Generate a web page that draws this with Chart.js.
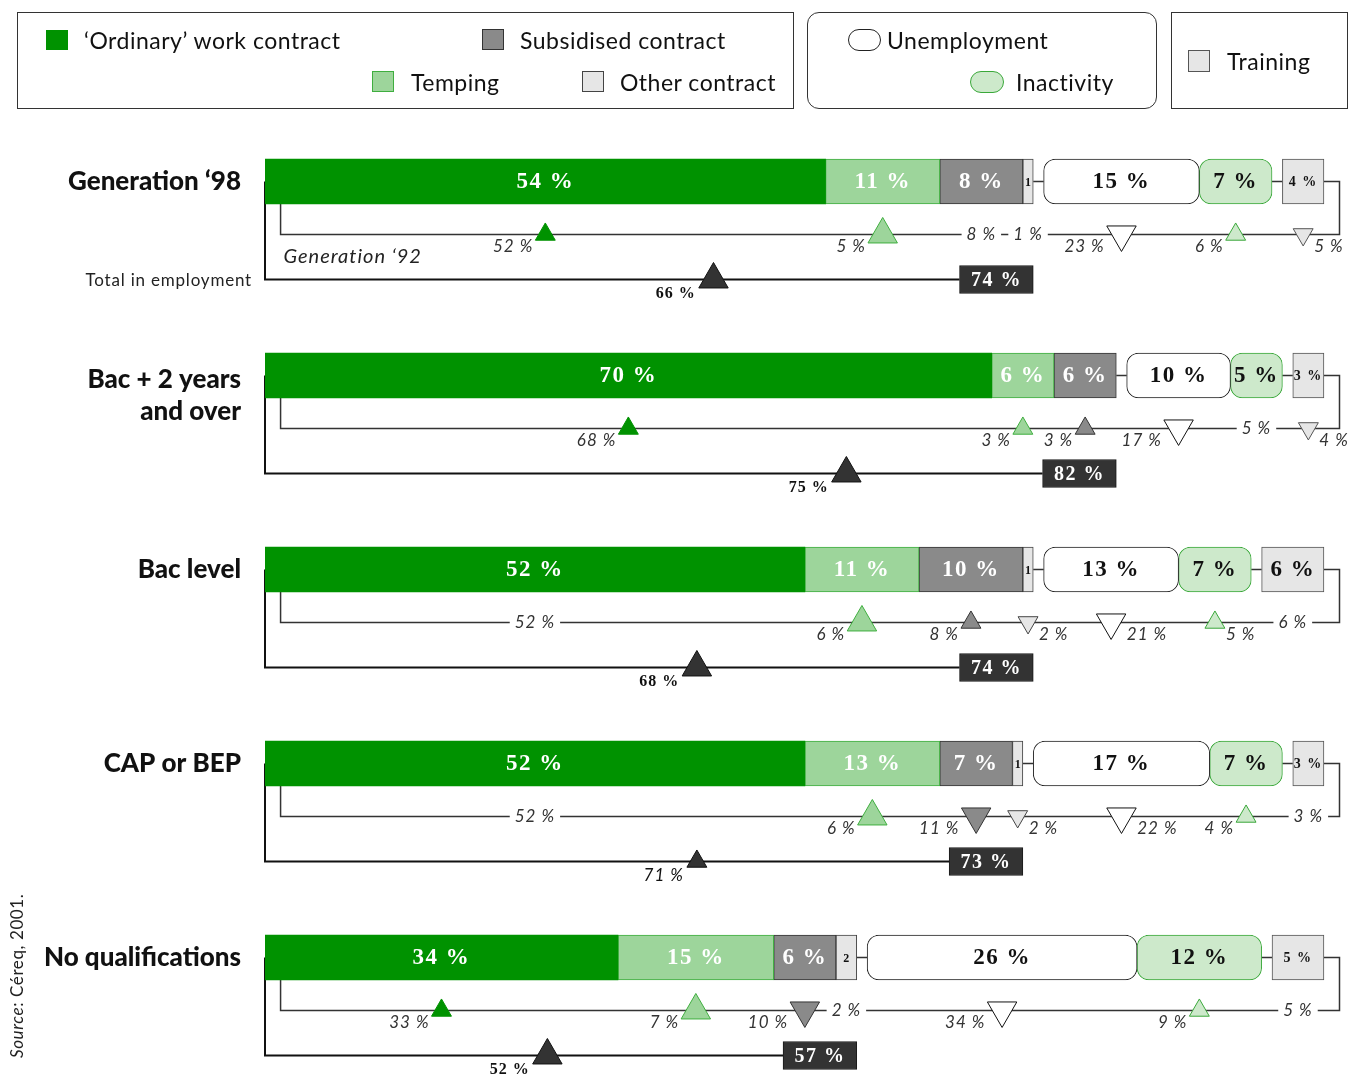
<!DOCTYPE html>
<html>
<head>
<meta charset="utf-8">
<title>Generation ‘98 compared with Generation ‘92</title>
<script src="https://cdn.jsdelivr.net/npm/chart.js@4.4.1/dist/chart.umd.min.js"></script>
<style>
  body { margin: 0; background: #fff; font-family: Lato, "Open Sans", sans-serif; color: #111; }
  #wrap { position: relative; width: 1353px; height: 1076px; overflow: hidden; }
  #chart { position: absolute; left: 0; top: 0; }
  .lbox { position: absolute; top: 12px; height: 97px; border: 1px solid #333; box-sizing: border-box; }
  .sw { position: absolute; box-sizing: border-box; }
  .txt { position: absolute; font-size: 23px; line-height: 26px; white-space: nowrap; letter-spacing: 0.5px; }
  #source { position: absolute; left: 7px; top: 1058px; transform-origin: left top; transform: rotate(-90deg);
            font-size: 17px; line-height: 20px; white-space: nowrap; letter-spacing: 0.6px; color: #222; }
</style>
</head>
<body>
<div id="wrap">
  <canvas id="chart" width="1353" height="1076"></canvas>
  <div id="legend"></div>
  <div id="source"><i>Source</i>: Céreq, 2001.</div>
</div>
<script>
// group labels (one entry per line)
const groups = [['Generation ‘98'], ['Bac + 2 years', 'and over'], ['Bac level'], ['CAP or BEP'], ['No qualifications']];

// Generation '98 (bars)
const ordinary98 = [54, 70, 52, 52, 34];
const temping98 = [11, 6, 11, 13, 15];
const subsidised98 = [8, 6, 10, 7, 6];
const other98 = [1, 0, 1, 1, 2];
const unemployment98 = [15, 10, 13, 17, 26];
const inactivity98 = [7, 5, 7, 7, 12];
const training98 = [4, 3, 6, 3, 5];
const total98 = [74, 82, 74, 73, 57];

// Generation '92 (markers)
const ordinary92 = [52, 68, 52, 52, 33];
const temping92 = [5, 3, 6, 6, 7];
const subsidised92 = [8, 3, 8, 11, 10];
const other92 = [1, 0, 2, 2, 2];
const unemployment92 = [23, 17, 21, 22, 34];
const inactivity92 = [6, 5, 5, 4, 9];
const training92 = [5, 4, 6, 3, 5];
const total92 = [66, 75, 68, 71, 52];

const series = [
  {key: 'ordinary', name: '‘Ordinary’ work contract', v98: ordinary98, v92: ordinary92, fill: '#009200', border: '#009200', bw: 0, text: '#fff', gap: 0},
  {key: 'temping', name: 'Temping', v98: temping98, v92: temping92, fill: '#9dd59b', border: '#3fae3f', bw: 1, text: '#fff', gap: 0},
  {key: 'subsidised', name: 'Subsidised contract', v98: subsidised98, v92: subsidised92, fill: '#8a8a8a', border: '#333', bw: 1, text: '#fff', gap: 0},
  {key: 'other', name: 'Other contract', v98: other98, v92: other92, fill: '#e6e6e6', border: '#444', bw: 1, text: '#111', gap: 0},
  {key: 'unemployment', name: 'Unemployment', v98: unemployment98, v92: unemployment92, fill: '#fff', border: '#222', bw: 1, text: '#111', gap: 1, radius: 12},
  {key: 'inactivity', name: 'Inactivity', v98: inactivity98, v92: inactivity92, fill: '#cde9cb', border: '#3aa83a', bw: 1, text: '#111', gap: 0, radius: 12},
  {key: 'training', name: 'Training', v98: training98, v92: training92, fill: '#e6e6e6', border: '#555', bw: 1, text: '#111', gap: 1}
];

const BAR_H = 45;
const OFFSET92 = 0.273;   // '92 line below each bar, in group units
const OFFSETTOT = 0.505;  // total-in-employment line
const BOX_W = 7.1;

// start/end of every segment, in % units
const spans = groups.map((g, i) => {
  let pos = 0;
  return series.map(s => {
    pos += s.gap;
    const start = pos;
    pos += s.v98[i];
    return {start: start, end: pos};
  });
});

function markerSize(d) { return Math.abs(d) > 3 ? 17 : 11.5; }
function totalMarkerX(i) { return ordinary98[i] * 0.8; }

const barSets = series.map((s, k) => ({
  type: 'bar',
  label: s.name,
  indexAxis: 'y',
  grouped: false,
  barThickness: BAR_H,
  data: groups.map((g, i) => s.v98[i] ? {x: [spans[i][k].start, spans[i][k].end], y: i} : null).filter(Boolean),
  backgroundColor: s.fill,
  borderColor: s.border,
  borderWidth: s.bw,
  borderSkipped: false,
  borderRadius: s.radius || 0
}));

const markerSets = series.map((s, k) => ({
  type: 'scatter',
  label: s.name + ' – Generation ‘92',
  data: groups.map((g, i) => ({x: (spans[i][k].start + spans[i][k].end) / 2, y: i + OFFSET92, d: s.v98[i] - s.v92[i]}))
    .filter(p => p.d !== 0),
  pointStyle: 'triangle',
  pointRadius: ctx => ctx.raw ? markerSize(ctx.raw.d) : 11,
  pointRotation: ctx => ctx.raw && ctx.raw.d < 0 ? 180 : 0,
  pointBackgroundColor: s.fill,
  pointBorderColor: s.key === 'ordinary' ? s.fill : (s.key === 'unemployment' ? '#111' : s.border),
  pointBorderWidth: 1
}));

const totalBox = {
  type: 'bar',
  label: 'Total in employment – Generation ‘98',
  indexAxis: 'y',
  grouped: false,
  barThickness: 28,
  data: total98.map((t, i) => ({x: [t - BOX_W, t], y: i + OFFSETTOT})),
  backgroundColor: '#333',
  borderColor: '#1a1a1a',
  borderWidth: 1,
  borderSkipped: false
};

const totalMarkers = {
  type: 'scatter',
  label: 'Total in employment – Generation ‘92',
  data: total92.map((t, i) => ({x: totalMarkerX(i), y: i + OFFSETTOT, d: total98[i] - t})),
  pointStyle: 'triangle',
  pointRadius: ctx => ctx.raw ? markerSize(ctx.raw.d) : 11,
  pointBackgroundColor: '#333',
  pointBorderColor: '#111',
  pointBorderWidth: 1
};

// which side of its triangle a '92 value is written on
function labelOnRight(s, i) {
  if (s.key === 'training' || s.key === 'other') return true;
  if (s.key === 'unemployment') return other98[i] !== other92[i];
  return false;
}

const annotate = {
  id: 'annotate',
  beforeDatasetsDraw(chart) {
    const {ctx, scales: {x, y}} = chart;
    ctx.save();
    groups.forEach((g, i) => {
      const sp = spans[i];
      const yc = y.getPixelForValue(i);
      const yb = yc + BAR_H / 2;
      const y92 = y.getPixelForValue(i + OFFSET92);
      const yt = y.getPixelForValue(i + OFFSETTOT);
      const end = sp[sp.length - 1].end;
      // total in employment bracket
      ctx.strokeStyle = '#111';
      ctx.lineWidth = 2;
      ctx.beginPath();
      ctx.moveTo(x.getPixelForValue(0), yc);
      ctx.lineTo(x.getPixelForValue(0), yt);
      ctx.lineTo(x.getPixelForValue(total98[i] - BOX_W), yt);
      ctx.stroke();
      // generation '92 bracket
      ctx.strokeStyle = '#333';
      ctx.lineWidth = 1.5;
      ctx.beginPath();
      ctx.moveTo(x.getPixelForValue(1.5), yb);
      ctx.lineTo(x.getPixelForValue(1.5), y92);
      ctx.lineTo(x.getPixelForValue(end + 1.5), y92);
      ctx.lineTo(x.getPixelForValue(end + 1.5), yc);
      ctx.lineTo(x.getPixelForValue(end), yc);
      // connectors between the three blocks
      ctx.moveTo(x.getPixelForValue(total98[i]), yc);
      ctx.lineTo(x.getPixelForValue(sp[4].start), yc);
      ctx.moveTo(x.getPixelForValue(sp[5].end), yc);
      ctx.lineTo(x.getPixelForValue(sp[6].start), yc);
      ctx.stroke();
    });
    ctx.restore();
  },
  afterDatasetsDraw(chart) {
    const {ctx, scales: {x, y}} = chart;
    ctx.save();
    ctx.textBaseline = 'middle';
    groups.forEach((g, i) => {
      const sp = spans[i];
      const yc = y.getPixelForValue(i);
      const y92 = y.getPixelForValue(i + OFFSET92);
      const yt = y.getPixelForValue(i + OFFSETTOT);

      // group name
      ctx.letterSpacing = '0px';
      ctx.font = '900 26px Lato';
      ctx.fillStyle = '#111';
      ctx.textAlign = 'right';
      g.forEach((line, j) => ctx.fillText(line, x.getPixelForValue(0) - 24, yc + (g.length > 1 ? 4 + j * 32 : 0)));

      // labels inside the segments
      series.forEach((s, k) => {
        const v = s.v98[i];
        if (!v) return;
        const x0 = x.getPixelForValue(sp[k].start), x1 = x.getPixelForValue(sp[k].end);
        const w = x1 - x0;
        const size = w < 28 ? 12 : (w < 45 || (s.key === 'training' && w < 60)) ? 14 : 23;
        ctx.font = 'bold ' + size + 'px "Liberation Serif"';
        ctx.letterSpacing = size > 12 ? '1.5px' : '0px';
        ctx.fillStyle = s.text;
        ctx.textAlign = 'center';
        ctx.fillText(w < 28 ? String(v) : v + ' %', (x0 + x1) / 2, yc + 1);
      });

      // generation '92 values
      ctx.font = 'italic 17px Lato';
      ctx.letterSpacing = '1px';
      let lastTextEnd = -Infinity;
      series.forEach((s, k) => {
        const a = s.v98[i], b = s.v92[i];
        if (!a && !b) return;
        const xm = x.getPixelForValue((sp[k].start + sp[k].end) / 2);
        const txt = b + ' %';
        const tw = ctx.measureText(txt).width;
        const d = a - b;
        if (d === 0) {
          ctx.fillStyle = '#fff';
          ctx.fillRect(xm - tw / 2 - 5, y92 - 9, tw + 10, 18);
          ctx.fillStyle = '#333';
          ctx.textAlign = 'center';
          ctx.fillText(txt, xm, y92);
          lastTextEnd = xm + tw / 2;
        } else {
          const half = markerSize(d) * 0.866;
          let right = labelOnRight(s, i);
          // move to the right side when it would run into the previous value
          if (!right && xm - half - 2 - tw < lastTextEnd + 12) right = true;
          ctx.fillStyle = '#333';
          ctx.textAlign = right ? 'left' : 'right';
          const tx = right ? xm + half + 1 : xm - half - 2;
          ctx.fillText(txt, tx, y92 + 12);
          lastTextEnd = right ? tx + tw : tx;
        }
      });

      // totals
      const bx0 = x.getPixelForValue(total98[i] - BOX_W), bx1 = x.getPixelForValue(total98[i]);
      ctx.font = 'bold 20px "Liberation Serif"';
      ctx.letterSpacing = '1.5px';
      ctx.fillStyle = '#fff';
      ctx.textAlign = 'center';
      ctx.fillText(total98[i] + ' %', (bx0 + bx1) / 2, yt + 1);
      const dt = total98[i] - total92[i];
      const tx = x.getPixelForValue(totalMarkerX(i));
      ctx.font = Math.abs(dt) > 3 ? 'bold 16px "Liberation Serif"' : 'italic 17px Lato';
      ctx.letterSpacing = '1px';
      ctx.fillStyle = '#111';
      ctx.textAlign = 'right';
      ctx.fillText(total92[i] + ' %', tx - markerSize(dt) * 0.866 - 3, yt + 14);

      if (i === 0) {
        ctx.font = 'italic 20px Lato';
        ctx.letterSpacing = '1px';
        ctx.textAlign = 'left';
        ctx.fillStyle = '#222';
        ctx.fillText('Generation ‘92', x.getPixelForValue(1.5) + 3, y92 + 22);
        ctx.font = '17px Lato';
        ctx.letterSpacing = '0.8px';
        ctx.textAlign = 'right';
        ctx.fillText('Total in employment', x.getPixelForValue(0) - 13, yt + 1);
      }
    });
    ctx.restore();
  }
};

new Chart(document.getElementById('chart'), {
  type: 'bar',
  data: {datasets: [...markerSets, totalMarkers, ...barSets, totalBox]},
  options: {
    responsive: false,
    animation: false,
    devicePixelRatio: 1,
    events: [],
    layout: {autoPadding: false, padding: {left: 265, right: 0, top: 0, bottom: 0}},
    scales: {
      x: {type: 'linear', min: 0, max: 104.8, offset: false, beginAtZero: false, grace: 0, bounds: 'data', display: false},
      y: {type: 'linear', min: -0.9356, max: 4.6108, reverse: true, offset: false, beginAtZero: false, grace: 0, bounds: 'data', display: false}
    },
    plugins: {legend: {display: false}, tooltip: {enabled: false}}
  },
  plugins: [annotate]
});

// legend in three framed boxes, like the original
const byKey = {};
series.forEach(s => { byKey[s.key] = s; });
const legendItems = [
  {key: 'ordinary', sx: 46, sy: 30, w: 22, h: 20, tx: 84, ty: 40},
  {key: 'subsidised', sx: 482, sy: 29, w: 22, h: 21, tx: 520, ty: 40},
  {key: 'temping', sx: 372, sy: 71, w: 22, h: 21, tx: 411, ty: 82},
  {key: 'other', sx: 582, sy: 71, w: 22, h: 21, tx: 620, ty: 82},
  {key: 'unemployment', sx: 848, sy: 29, w: 33, h: 22, tx: 887, ty: 40, pill: true},
  {key: 'inactivity', sx: 970, sy: 71, w: 34, h: 22, tx: 1016, ty: 82, pill: true},
  {key: 'training', sx: 1188, sy: 50, w: 22, h: 22, tx: 1227, ty: 61}
];
const legend = document.getElementById('legend');
let html = '<div class="lbox" style="left:17px;width:777px"></div>' +
  '<div class="lbox" style="left:807px;width:350px;border-radius:12px"></div>' +
  '<div class="lbox" style="left:1171px;width:177px"></div>';
legendItems.forEach(it => {
  const s = byKey[it.key];
  const border = s.bw ? '1px solid ' + s.border : 'none';
  html += '<div class="sw" style="left:' + it.sx + 'px;top:' + it.sy + 'px;width:' + it.w + 'px;height:' + it.h +
    'px;background:' + s.fill + ';border:' + border + ';border-radius:' + (it.pill ? '11px' : '0') + '"></div>';
  html += '<div class="txt" style="left:' + it.tx + 'px;top:' + (it.ty - 13) + 'px">' + s.name + '</div>';
});
legend.innerHTML = html;
</script>
</body>
</html>
